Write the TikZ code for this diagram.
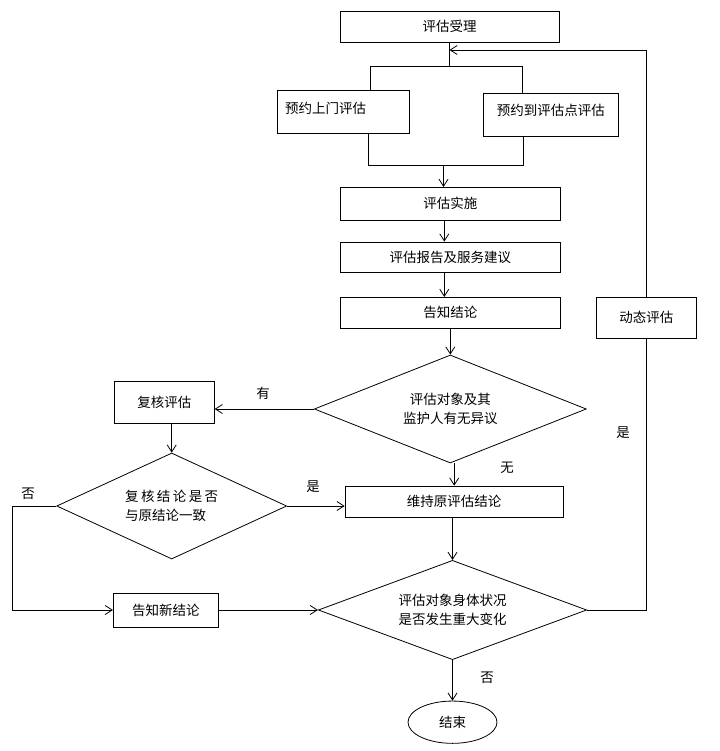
\documentclass[tikz,border=0pt]{standalone}
\usepackage{fontspec}
\setmainfont{Noto Sans CJK SC}
\usetikzlibrary{shapes,arrows.meta,positioning,calc}

\begin{document}
\begin{tikzpicture}[x=1pt, y=-1pt, line width=0.8pt,
    every node/.style={font=\fontsize{13.5}{19.5}\selectfont},
    box/.style={draw, rectangle, inner sep=2pt},
    decision/.style={draw, diamond, aspect=2.5, inner sep=0pt, align=center},
    terminal/.style={draw, ellipse, inner sep=0pt},
    >={Straight Barb[length=7pt, width=9pt]}]
    \useasboundingbox (0, 0) rectangle (719, 751);

    % Main column
    \node[box, minimum width=219pt, minimum height=31pt] (accept) at (449.5, 26.7) {评估受理};
    \node[box, minimum width=132pt, minimum height=43pt, text width=116pt, inner xsep=8pt, align=left, text depth=8pt] (visit) at (343, 111.7) {预约上门评估};
    \node[box, minimum width=135pt, minimum height=43.4pt, text depth=10pt] (site) at (550.8, 115) {预约到评估点评估};
    \node[box, minimum width=219.3pt, minimum height=32.7pt] (impl) at (450.3, 203.7) {评估实施};
    \node[box, minimum width=219.3pt, minimum height=30pt] (report) at (450.3, 257) {评估报告及服务建议};
    \node[box, minimum width=219.3pt, minimum height=30.7pt] (notify) at (450.3, 312.7) {告知结论};
    \node[decision, minimum width=272pt, minimum height=108pt] (dispute) at (450.3, 409) {评估对象及其\\监护人有无异议};
    \node[box, minimum width=218.3pt, minimum height=31.3pt] (keep) at (454.2, 501.7) {维持原评估结论};
    \node[decision, minimum width=268.4pt, minimum height=99.3pt, aspect=2.7] (change) at (452.5, 610) {评估对象身体状况\\是否发生重大变化};
    \node[terminal, minimum width=89pt, minimum height=42.3pt] (stop) at (452.5, 722.2) {结束};

    % Review branch
    \node[box, minimum width=100pt, minimum height=41.6pt] (recheck) at (164.3, 402.5) {复核评估};
    \node[decision, minimum width=230pt, minimum height=106pt, aspect=2.2, align=left] (agree) at (171.7, 506) {复\kern2.4pt 核\kern2.4pt 结\kern2.4pt 论\kern2.4pt 是\kern2.4pt 否\\与原结论一致};
    \node[box, minimum width=105pt, minimum height=34pt] (newconc) at (165.8, 610) {告知新结论};

    % Loop back
    \node[box, minimum width=100.7pt, minimum height=41pt] (dynamic) at (646.3, 317.8) {动态评估};

    % Helper points
    \coordinate (forkL) at (370, 66.7);
    \coordinate (forkR) at (522.7, 66.7);
    \coordinate (joinL) at (368.7, 165.7);
    \coordinate (joinR) at (523.3, 165.7);
    \coordinate (joinM) at (443.5, 165.7);
    \coordinate (back) at (12.7, 506);
    \coordinate (loop) at (449.5, 50);

    % Fork and join
    \draw (accept.south) -- (accept.south |- forkL);
    \draw (forkL |- visit.north) -- (forkL) -- (forkR) -- (forkR |- site.north);
    \draw (joinL |- visit.south) -- (joinL) -- (joinR) -- (joinR |- site.south);
    \draw[->] (joinM) -- (joinM |- impl.north);

    % Arrows
    \draw[->] ([xshift=-6pt]impl.south) -- ([xshift=-6pt]report.north);
    \draw[->] ([xshift=-6pt]report.south) -- ([xshift=-6pt]notify.north);
    \draw[->] (notify.south) -- (dispute.north);
    \draw[->] (dispute.west) -- (dispute.west -| recheck.east);
    \draw[->] (agree.north |- recheck.south) -- (agree.north);
    \draw[->] (agree.east) -- (agree.east -| keep.west);
    \draw[->] (keep.north |- dispute.south) -- (keep.north);
    \draw[->] (keep.south -| change.north) -- (change.north);
    \draw[->] (agree.west) -- (back) |- (newconc.west);
    \draw[->] (newconc.east) -- (change.west);
    \draw (change.east) -- (change.east -| dynamic.south) -- (dynamic.south);
    \draw[->] (dynamic.north) |- (loop);
    \draw[->] (change.south) -- (stop.north);

    % Branch labels
    \node (lblHas) at (263, 393) {有};
    \node (lblSame) at (313, 487) {是};
    \node (lblDiff) at (28, 494) {否};
    \node (lblNone) at (507, 468) {无};
    \node (lblYes) at (623, 433) {是};
    \node (lblNo) at (487, 678) {否};

\end{tikzpicture}
\end{document}
